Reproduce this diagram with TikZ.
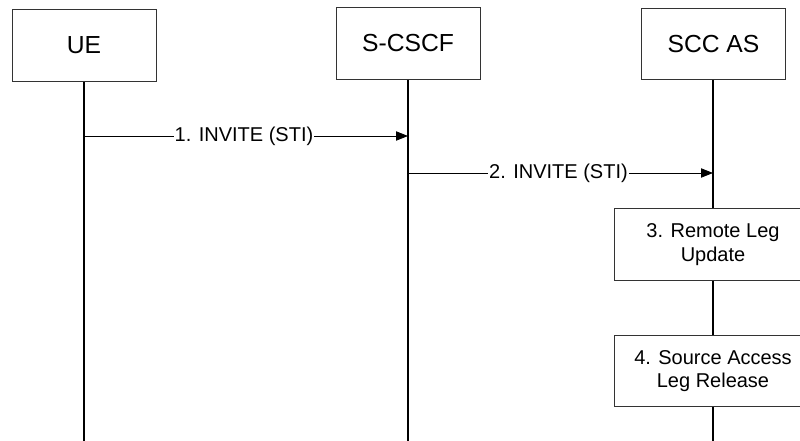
\documentclass[tikz,border=0pt]{standalone}
\usepackage{fontspec}
\setmainfont{Liberation Sans}
\usetikzlibrary{arrows.meta}

\begin{document}
\begin{tikzpicture}[x=0.75pt,y=-0.75pt,
    entity/.style={draw=black!80,line width=0.6pt,fill=white,
      minimum width=108pt,minimum height=53.5pt,inner sep=0pt,
      font=\fontsize{18.5}{22}\selectfont},
    actbox/.style={draw=black!80,line width=0.6pt,fill=white,
      minimum width=148.5pt,minimum height=53.5pt,inner sep=0pt,
      align=center,font=\fontsize{15}{17.5}\selectfont},
    lifeline/.style={line width=0.9pt},
    msg/.style={line width=0.6pt,-{Triangle[length=9pt,width=7pt]}},
    msglabel/.style={fill=white,inner sep=0.6pt,
      font=\fontsize{15}{17.5}\selectfont}]
  \pgfmathsetmacro{\lifebottom}{441}

  \useasboundingbox (0,0) rectangle (800,441);

  % Lifelines
  \coordinate (uebot)   at (84,\lifebottom);
  \coordinate (cscfbot) at (408,\lifebottom);
  \coordinate (sccbot)  at (713,\lifebottom);
  \draw[lifeline] (84,45)  -- (uebot);
  \draw[lifeline] (408,44) -- (cscfbot);
  \draw[lifeline] (713,44) -- (sccbot);

  % Entities
  \node[entity] (ue)   at (84,45.5)  {UE};
  \node[entity] (cscf) at (408,43.5) {S-CSCF};
  \node[entity] (scc)  at (713.5,44) {SCC AS};

  % Messages
  \coordinate (m1s) at (84,136);
  \coordinate (m1e) at (408,136);
  \draw[msg] (m1s) -- (m1e)
        node[midway,msglabel,xshift=-1.5pt]{1. INVITE (STI)};

  \coordinate (m2s) at (408,173);
  \coordinate (m2e) at (713,173);
  \draw[msg] (m2s) -- (m2e)
        node[midway,msglabel,xshift=-1.5pt]{2. INVITE (STI)};

  % Actions at SCC AS
  \node[actbox] (update)  at (713,244.5) {3. Remote Leg\\Update};
  \node[actbox] (release) at (713,371)   {4. Source Access\\Leg Release};
\end{tikzpicture}
\end{document}
